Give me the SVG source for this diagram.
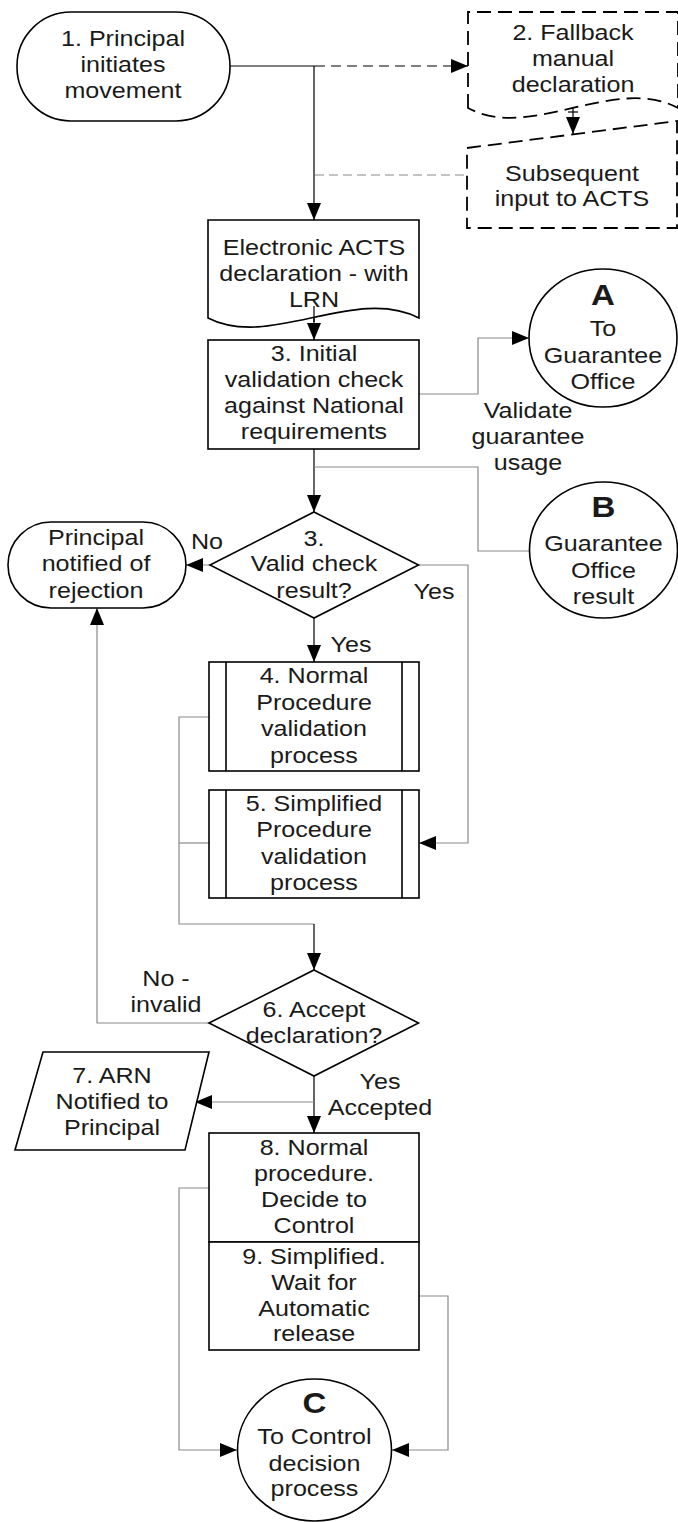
<svg xmlns="http://www.w3.org/2000/svg" width="678" height="1522" viewBox="0 0 678 1522">
<defs>
<marker id="ah" markerUnits="userSpaceOnUse" markerWidth="17" markerHeight="14" refX="17" refY="7" orient="auto"><path d="M0,0 L17,7 L0,14 Z" fill="#000"/></marker>
</defs>
<style>
.s{fill:#fff;stroke:#000;stroke-width:1.6}
.d{stroke-dasharray:14 7;stroke-width:1.8}
.c{fill:none;stroke:#000;stroke-width:1.2}
.g{fill:none;stroke:#8a8a8a;stroke-width:1.2}
.gd{fill:none;stroke:#8a8a8a;stroke-width:1.2;stroke-dasharray:9 5}
.cd{fill:none;stroke:#000;stroke-width:1.2;stroke-dasharray:10 6}
text{font-family:"Liberation Sans",Arial,sans-serif;font-size:22px;fill:#1a1a1a;text-anchor:middle}
.b{font-weight:bold;font-size:29px}
</style>
<rect width="678" height="1522" fill="#fff"/>

<g id="connectors">
<path class="c" d="M230,66 H315"/>
<path class="cd" d="M315,66 H468" marker-end="url(#ah)"/>
<path class="c" d="M314,66 V220" marker-end="url(#ah)"/>
<path class="gd" d="M315,175 H467"/>
<path class="c" d="M573,108 V134" marker-end="url(#ah)"/>
<path class="c" d="M568,112 H578"/>
<path class="c" d="M314,306 V340" marker-end="url(#ah)"/>
<path class="g" d="M419,394 H478 V338 H529" marker-end="url(#ah)"/>
<path class="c" d="M314,449 V512" marker-end="url(#ah)"/>
<path class="g" d="M314,467 H478 V551 H530"/>
<path class="g" d="M236,565 H186" marker-end="url(#ah)"/>
<path class="g" d="M418.5,565 H468 V843 H419" marker-end="url(#ah)"/>
<path class="c" d="M314,618 V662" marker-end="url(#ah)"/>
<path class="g" d="M209,717 H179 V924 H314"/>
<path class="c" d="M314,924 V970" marker-end="url(#ah)"/>
<path class="g" d="M209,843 H179"/>
<path class="g" d="M209,1023 H97 V608" marker-end="url(#ah)"/>
<path class="c" d="M314,1076 V1133" marker-end="url(#ah)"/>
<path class="g" d="M314,1102 H195" marker-end="url(#ah)"/>
<path class="g" d="M209,1188 H179 V1450 H237" marker-end="url(#ah)"/>
<path class="g" d="M419,1296 H448 V1450 H392" marker-end="url(#ah)"/>
<text transform="translate(528 0) scale(1.14 1)"><tspan x="0" y="418">Validate</tspan><tspan x="0" y="444">guarantee</tspan><tspan x="0" y="470">usage</tspan></text>
<text transform="translate(207 0) scale(1.14 1)"><tspan x="0" y="549">No</tspan></text>
<text transform="translate(434 0) scale(1.14 1)"><tspan x="0" y="599">Yes</tspan></text>
<text transform="translate(351 0) scale(1.14 1)"><tspan x="0" y="652">Yes</tspan></text>
<text transform="translate(166 0) scale(1.14 1)"><tspan x="0" y="986">No -</tspan><tspan x="0" y="1012">invalid</tspan></text>
<text transform="translate(380 0) scale(1.14 1)"><tspan x="0" y="1089">Yes</tspan><tspan x="0" y="1115">Accepted</tspan></text>
</g>

<g id="n1">
<rect class="s" x="17" y="12" width="213" height="109" rx="54" ry="54"/>
<text transform="translate(123 0) scale(1.14 1)"><tspan x="0" y="46">1. Principal</tspan><tspan x="0" y="72">initiates</tspan><tspan x="0" y="98">movement</tspan></text>
</g>

<g id="n2">
<path class="s d" d="M468,108 V12 H678 V108 C615,74 530,142 468,108 Z"/>
<text transform="translate(573 0) scale(1.14 1)"><tspan x="0" y="40">2. Fallback</tspan><tspan x="0" y="66">manual</tspan><tspan x="0" y="92">declaration</tspan></text>
</g>

<g id="n2b">
<path class="s d" d="M467,148 L677,121 L677,228 L467,228 Z"/>
<text transform="translate(572 0) scale(1.14 1)"><tspan x="0" y="181">Subsequent</tspan><tspan x="0" y="206">input to ACTS</tspan></text>
</g>

<g id="ndoc">
<path class="s" d="M208,318 V220 H419 V318 C355,285 270,350 208,318 Z"/>
<text transform="translate(314 0) scale(1.14 1)"><tspan x="0" y="255">Electronic ACTS</tspan><tspan x="0" y="281">declaration - with</tspan><tspan x="0" y="307">LRN</tspan></text>
</g>
<path class="c" d="M314,306 V322"/>

<g id="n3">
<rect class="s" x="208" y="340" width="211" height="109"/>
<text transform="translate(314 0) scale(1.14 1)"><tspan x="0" y="361">3. Initial</tspan><tspan x="0" y="387">validation check</tspan><tspan x="0" y="413">against National</tspan><tspan x="0" y="439">requirements</tspan></text>
</g>

<g id="nA">
<ellipse class="s" cx="603" cy="338" rx="74" ry="69"/>
<text class="b" transform="translate(603 0) scale(1.14 1)"><tspan x="0" y="305">A</tspan></text>
<text transform="translate(603 0) scale(1.14 1)"><tspan x="0" y="336">To</tspan><tspan x="0" y="363">Guarantee</tspan><tspan x="0" y="389">Office</tspan></text>
</g>

<g id="nB">
<ellipse class="s" cx="603.5" cy="550" rx="74" ry="68"/>
<text class="b" transform="translate(603.5 0) scale(1.14 1)"><tspan x="0" y="517">B</tspan></text>
<text transform="translate(603.5 0) scale(1.14 1)"><tspan x="0" y="551">Guarantee</tspan><tspan x="0" y="578">Office</tspan><tspan x="0" y="604">result</tspan></text>
</g>

<g id="nrej">
<rect class="s" x="8" y="522" width="178" height="86" rx="43" ry="43"/>
<text transform="translate(96 0) scale(1.14 1)"><tspan x="0" y="545">Principal</tspan><tspan x="0" y="571">notified of</tspan><tspan x="0" y="598">rejection</tspan></text>
</g>

<g id="d3">
<path class="s" d="M314,512 L418.5,565 L314,618 L210,565 Z"/>
<text transform="translate(314 0) scale(1.14 1)"><tspan x="0" y="546">3.</tspan><tspan x="0" y="571">Valid check</tspan><tspan x="0" y="598">result?</tspan></text>
</g>

<g id="n4">
<rect class="s" x="209" y="662" width="210" height="109"/>
<path class="s" d="M226,662 V771 M402,662 V771"/>
<text transform="translate(314 0) scale(1.14 1)"><tspan x="0" y="683">4. Normal</tspan><tspan x="0" y="710">Procedure</tspan><tspan x="0" y="736">validation</tspan><tspan x="0" y="763">process</tspan></text>
</g>

<g id="n5">
<rect class="s" x="209" y="790" width="210" height="108"/>
<path class="s" d="M226,790 V898 M402,790 V898"/>
<text transform="translate(314 0) scale(1.14 1)"><tspan x="0" y="811">5. Simplified</tspan><tspan x="0" y="837">Procedure</tspan><tspan x="0" y="864">validation</tspan><tspan x="0" y="890">process</tspan></text>
</g>

<g id="d6">
<path class="s" d="M314,970 L418.5,1023 L314,1076 L209,1023 Z"/>
<text transform="translate(314 0) scale(1.14 1)"><tspan x="0" y="1017">6. Accept</tspan><tspan x="0" y="1043">declaration?</tspan></text>
</g>

<g id="n7">
<path class="s" d="M43,1052 L209,1052 L185,1150 L15,1150 Z"/>
<text transform="translate(112 0) scale(1.14 1)"><tspan x="0" y="1083">7. ARN</tspan><tspan x="0" y="1109">Notified to</tspan><tspan x="0" y="1135">Principal</tspan></text>
</g>

<g id="n8">
<rect class="s" x="209" y="1133" width="210" height="109"/>
<text transform="translate(314 0) scale(1.14 1)"><tspan x="0" y="1155">8. Normal</tspan><tspan x="0" y="1181">procedure.</tspan><tspan x="0" y="1207">Decide to</tspan><tspan x="0" y="1233">Control</tspan></text>
</g>

<g id="n9">
<rect class="s" x="209" y="1242" width="210" height="108"/>
<text transform="translate(314 0) scale(1.14 1)"><tspan x="0" y="1264">9. Simplified.</tspan><tspan x="0" y="1290">Wait for</tspan><tspan x="0" y="1316">Automatic</tspan><tspan x="0" y="1341">release</tspan></text>
</g>

<g id="nC">
<ellipse class="s" cx="314.5" cy="1450" rx="77" ry="71"/>
<text class="b" transform="translate(314.5 0) scale(1.14 1)"><tspan x="0" y="1413">C</tspan></text>
<text transform="translate(314.5 0) scale(1.14 1)"><tspan x="0" y="1444">To Control</tspan><tspan x="0" y="1471">decision</tspan><tspan x="0" y="1496">process</tspan></text>
</g>
</svg>
